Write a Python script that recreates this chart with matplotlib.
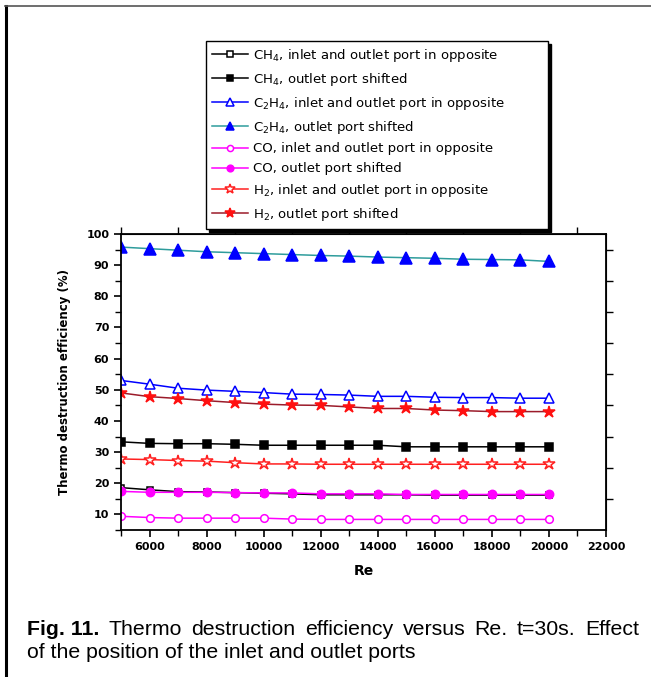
import matplotlib
matplotlib.use('Agg')
import matplotlib.pyplot as plt
from matplotlib.lines import Line2D

# Reynolds numbers (x)
re_vals = [5000, 6000, 7000, 8000, 9000, 10000, 11000, 12000, 13000, 14000,
           15000, 16000, 17000, 18000, 19000, 20000]

# thermo destruction efficiency (%)
ch4_opp = [18.6, 17.9, 17.3, 17.2, 17.0, 16.8, 16.6, 16.3, 16.3, 16.3,
           16.3, 16.2, 16.2, 16.2, 16.2, 16.2]
ch4_shift = [33.3, 32.8, 32.7, 32.7, 32.5, 32.2, 32.2, 32.2, 32.2, 32.2,
             31.7, 31.7, 31.7, 31.7, 31.7, 31.7]
c2h4_opp = [53.0, 51.8, 50.5, 49.9, 49.5, 49.1, 48.6, 48.5, 48.3, 47.9,
            47.9, 47.6, 47.5, 47.5, 47.3, 47.3]
c2h4_shift = [95.8, 95.3, 94.8, 94.3, 94.0, 93.7, 93.4, 93.1, 92.9, 92.6,
              92.4, 92.2, 91.9, 91.8, 91.7, 91.2]
co_opp = [9.4, 9.0, 8.8, 8.8, 8.8, 8.8, 8.5, 8.4, 8.4, 8.4,
          8.4, 8.4, 8.4, 8.4, 8.4, 8.4]
co_shift = [17.4, 17.1, 17.1, 17.1, 17.0, 16.9, 16.9, 16.6, 16.6, 16.6,
            16.4, 16.4, 16.4, 16.4, 16.4, 16.4]
h2_opp = [27.8, 27.6, 27.3, 27.1, 26.6, 26.2, 26.2, 26.1, 26.1, 26.1,
          26.1, 26.1, 26.1, 26.1, 26.1, 26.1]
h2_shift = [49.0, 47.8, 47.2, 46.5, 45.9, 45.4, 45.1, 45.0, 44.5, 44.0,
            44.0, 43.5, 43.3, 43.0, 43.0, 43.0]

labels = ["CH$_4$, inlet and outlet port in opposite",
          "CH$_4$, outlet port shifted",
          "C$_2$H$_4$, inlet and outlet port in opposite",
          "C$_2$H$_4$, outlet port shifted",
          "CO, inlet and outlet port in opposite",
          "CO, outlet port shifted",
          "H$_2$, inlet and outlet port in opposite",
          "H$_2$, outlet port shifted"]

x_ticks = [6000, 8000, 10000, 12000, 14000, 16000, 18000, 20000, 22000]
y_ticks = [10, 20, 30, 40, 50, 60, 70, 80, 90, 100]

caption_line1 = [('Fig. 11.', 'bold'), ('Thermo', 'normal'),
                 ('destruction', 'normal'), ('efficiency', 'normal'),
                 ('versus', 'normal'), ('Re.', 'normal'), ('t=30s.', 'normal'),
                 ('Effect', 'normal')]
caption_line2 = 'of the position of the inlet and outlet ports'

W, H = 651, 677
plt.rcParams['font.family'] = ['DejaVu Sans']
plt.rcParams['mathtext.default'] = 'regular'

fig = plt.figure(figsize=(W / 100, H / 100), dpi=100)
ax = fig.add_axes([121 / W, 1 - 530 / H, 485 / W, 296 / H])

# (y, line colour, marker, marker face, marker edge, size)
series = [
    (ch4_opp, 'black', 's', 'white', 'black', 5),
    (ch4_shift, 'black', 's', 'black', 'black', 5.5),
    (c2h4_opp, '#0000FF', '^', 'white', '#0000FF', 7.5),
    (c2h4_shift, '#2E9C9C', '^', '#0000FF', '#0000FF', 8),
    (co_opp, '#FF00FF', 'o', 'white', '#FF00FF', 5.5),
    (co_shift, '#FF00FF', 'o', '#FF00FF', '#FF00FF', 6),
    (h2_opp, '#FF2020', '*', 'white', '#FF2020', 9),
    (h2_shift, '#9B1B2A', '*', '#FF1010', '#FF1010', 9),
]

handles = []
for (ys, lc, mk, mfc, mec, ms), lab in zip(series, labels):
    ax.plot(re_vals, ys, color=lc, lw=1.1, marker=mk, mfc=mfc, mec=mec,
            ms=ms, mew=1.1)
    handles.append(Line2D([], [], color=lc, lw=1.1, marker=mk, mfc=mfc,
                          mec=mec, ms=ms * 0.8, mew=1.1))

ax.set_xlim(5000, 22000)
ax.set_ylim(5, 100)
ax.set_xticks(x_ticks)
ax.set_xticks(range(5000, 22001, 1000), minor=True)
ax.set_yticks(y_ticks)
ax.set_yticks(range(5, 101, 5), minor=True)
ax.tick_params(which='major', direction='out', length=5, width=1.2,
               labelsize=8, pad=3.5)
ax.tick_params(which='minor', direction='out', length=4, width=1.0)
for lab in ax.get_xticklabels() + ax.get_yticklabels():
    lab.set_fontweight('bold')
for sp in ax.spines.values():
    sp.set_linewidth(1.3)

# Origin-style top/right ticks (offset from the bottom/left ones)
top = ax.secondary_xaxis('top')
top.set_xticks(range(5000, 22001, 2000))
top.tick_params(direction='out', length=5, width=1.0, labeltop=False)
right = ax.secondary_yaxis('right')
right.set_yticks(range(15, 100, 10))
right.tick_params(direction='out', length=5, width=1.0, labelright=False)

ax.set_xlabel('Re', fontsize=10, fontweight='bold', labelpad=9)
ax.set_ylabel('Thermo destruction efficiency (%)', fontsize=8.5,
              fontweight='bold', labelpad=11)

leg = fig.legend(handles, labels, loc='upper left', mode='expand',
                 bbox_to_anchor=(206 / W, 1 - 213 / H, 342 / W, 172 / H),
                 fontsize=9.5, frameon=True, fancybox=False,
                 shadow={'color': 'black', 'alpha': 1},
                 handlelength=2.7, handletextpad=0.4, labelspacing=0.52,
                 borderpad=0.45, borderaxespad=0)
leg.get_frame().set_edgecolor('black')
leg.get_frame().set_linewidth(1.0)

# page border (left and top only)
fig.add_artist(Line2D([6 / W, 6 / W], [0, 1 - 6 / H], color='black', lw=2.2))
fig.add_artist(Line2D([5 / W, 1], [1 - 6 / H, 1 - 6 / H], color='#555555', lw=1.2))

# caption, first line justified between x=27 and x=639
cap_font = ['Liberation Sans', 'DejaVu Sans']
cap_size = 15.3
renderer = fig.canvas.get_renderer()
words = [fig.text(0, 1 - 635 / H, w, fontsize=cap_size, fontweight=fw,
                  family=cap_font, va='baseline') for w, fw in caption_line1]
widths = [t.get_window_extent(renderer).width for t in words]
gap = (639 - 27 - sum(widths)) / (len(words) - 1)
xpos = 27
for t, wd in zip(words, widths):
    t.set_x(xpos / W)
    xpos += wd + gap
fig.text(27 / W, 1 - 658 / H, caption_line2, fontsize=cap_size, family=cap_font,
         va='baseline')

fig.savefig('out.png', dpi=100)
